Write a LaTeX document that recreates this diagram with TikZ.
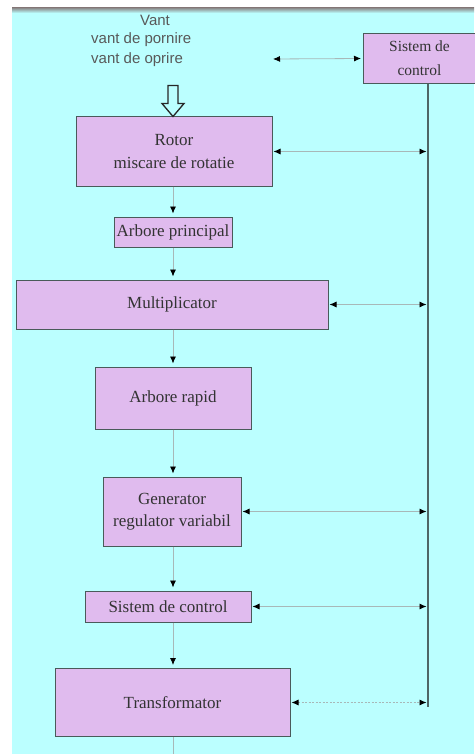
\documentclass[tikz,border=0pt]{standalone}
\usepackage{fontspec}
\setmainfont{Liberation Serif}
\newfontfamily\vantfont{Liberation Sans}
\usetikzlibrary{arrows.meta,positioning}
\definecolor{cyanbg}{HTML}{BBFFFF}
\definecolor{boxfill}{HTML}{E0BBEE}
\definecolor{boxline}{HTML}{4A5A5A}
\definecolor{linkgray}{HTML}{A8B8B8}
\definecolor{busgray}{HTML}{4F6666}
\begin{document}
\begin{tikzpicture}[x=1pt,y=1pt]
	\tikzstyle{every node}+=[inner sep=0pt]
	\tikzstyle{block}=[draw=boxline,fill=boxfill,line width=1pt,align=center,font=\fontsize{17}{22.5}\selectfont,text=black!80]
	\tikzstyle{flow}=[draw=linkgray,line width=0.8pt,-{Latex[length=7pt,width=6pt,black]},shorten >=3pt]
	\tikzstyle{link}=[draw=linkgray,line width=0.8pt,{Latex[length=7pt,width=6pt,black]}-{Latex[length=7pt,width=6pt,black]},shorten <=1pt,shorten >=1.5pt]
	\useasboundingbox (0,0) rectangle (474,-754);
	\fill [cyanbg] (12,-9) rectangle (474,-754);
	\shade [top color=black!45,bottom color=cyanbg] (12,-8) rectangle (474,-13);
	\coordinate (axis) at (173,0);
	\coordinate (busend) at (428,-707);
	\coordinate (cmd) at (272,-59);
	\coordinate (outlet) at (173,-760);
	\node [font=\vantfont\fontsize{15}{19.5}\selectfont,text=black!65] (vant) at (155,-20) {Vant};
	\node [font=\vantfont\fontsize{15}{19.5}\selectfont,text=black!65,align=left,anchor=west] (vantopt) at (91,-49.5) {vant de pornire\\vant de oprire};
	\node [block,minimum width=113pt,minimum height=50pt,font=\fontsize{15.5}{24}\selectfont] (ctrl) at (419.5,-58.5) {Sistem de\\control};
	\node [block,minimum width=196pt,minimum height=69pt] (rotor) at (174,-151.5) {Rotor\\miscare de rotatie};
	\node [block,minimum width=118pt,minimum height=30pt] (arbp) at (173,-232) {Arbore principal};
	\node [block,minimum width=312pt,minimum height=49pt] (mult) at (172,-304.5) {Multiplicator};
	\node [block,minimum width=156pt,minimum height=62pt] (arbr) at (173,-398) {Arbore rapid};
	\node [block,minimum width=138pt,minimum height=69pt] (gen) at (172,-511.5) {Generator\\regulator variabil};
	\node [block,minimum width=166pt,minimum height=31pt] (sctrl) at (168,-606.5) {Sistem de control};
	\node [block,minimum width=235pt,minimum height=68pt] (trans) at (172.5,-702.5) {Transformator};
	\draw [black!85,line width=1.3pt,shift={(rotor.north -| axis)}] (-5,31) -- (5,31) -- (5,13) -- (11,13) -- (0,0) -- (-11,13) -- (-5,13) -- cycle;
	\draw [busgray,line width=1.6pt] (ctrl.south -| busend) -- (busend);
	\draw [link] (cmd) -- (ctrl.west);
	\draw [link] (rotor.east) -- (rotor.east -| busend);
	\draw [link] (mult.east) -- (mult.east -| busend);
	\draw [link] (gen.east) -- (gen.east -| busend);
	\draw [link] (sctrl.east) -- (sctrl.east -| busend);
	\draw [link,dash pattern=on 2pt off 1.5pt] (trans.east) -- (trans.east -| busend);
	\draw [flow] (rotor.south -| axis) -- (arbp.north -| axis);
	\draw [flow] (arbp.south -| axis) -- (mult.north -| axis);
	\draw [flow] (mult.south -| axis) -- (arbr.north -| axis);
	\draw [flow] (arbr.south -| axis) -- (gen.north -| axis);
	\draw [flow] (gen.south -| axis) -- (sctrl.north -| axis);
	\draw [flow] (sctrl.south -| axis) -- (trans.north -| axis);
	\draw [linkgray,line width=0.8pt] (trans.south -| axis) -- (outlet);
\end{tikzpicture}
\end{document}
